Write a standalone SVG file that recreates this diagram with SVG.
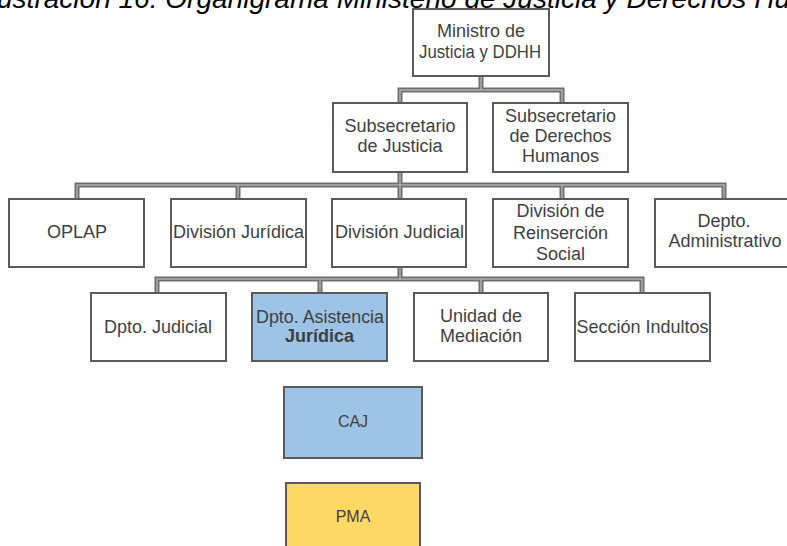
<svg xmlns="http://www.w3.org/2000/svg" width="787" height="546" viewBox="0 0 787 546">
<style>
.box{fill:#ffffff;stroke:#5a5a5a;stroke-width:2}
.blue{fill:#9dc3e6}
.yellow{fill:#ffd966}
.t{font-family:"Liberation Sans",Arial,sans-serif;font-size:18px;fill:#3f3f3f;text-anchor:middle}
.b{font-weight:bold}
.c1{fill:none;stroke:#6e6e6e;stroke-width:5;stroke-linejoin:miter}
.c2{fill:none;stroke:#b0b0b0;stroke-width:1.5;stroke-linejoin:miter}
.title{font-family:"Liberation Sans",Arial,sans-serif;font-size:27px;font-style:italic;fill:#000000}
</style>
<rect width="787" height="546" fill="#ffffff"/>
<text class="title" x="-3" y="7.5" textLength="793" lengthAdjust="spacingAndGlyphs">ustración 16: Organigrama Ministerio de Justicia y Derechos Hu</text>
<g id="connectors">
<path class="c1" d="M481 76V90M400 103V90H562V103M400 172V185M77 199V185H724V199M238 185V199M400 185V199M562 185V199M400 267V279M157 293V279H642V293M320 279V293M481 279V293"/>
<path class="c2" d="M481 76V90M400 103V90H562V103M400 172V185M77 199V185H724V199M238 185V199M400 185V199M562 185V199M400 267V279M157 293V279H642V293M320 279V293M481 279V293"/>
</g>
<g id="ministro"><rect class="box" x="413" y="9" width="136" height="67"/><text class="t" x="481" y="37">Ministro de</text><text class="t" x="480" y="58" textLength="122" lengthAdjust="spacingAndGlyphs">Justicia y DDHH</text></g>
<g id="subsec-justicia"><rect class="box" x="333" y="103" width="134" height="69"/><text class="t" x="400" y="132">Subsecretario</text><text class="t" x="400" y="152">de Justicia</text></g>
<g id="subsec-ddhh"><rect class="box" x="493" y="103" width="135" height="69"/><text class="t" x="560.5" y="122">Subsecretario</text><text class="t" x="560.5" y="142">de Derechos</text><text class="t" x="560.5" y="162">Humanos</text></g>
<g id="oplap"><rect class="box" x="9" y="199" width="135" height="68"/><text class="t" x="77" y="238">OPLAP</text></g>
<g id="div-juridica"><rect class="box" x="171" y="199" width="135" height="68"/><text class="t" x="238.5" y="238" textLength="131" lengthAdjust="spacingAndGlyphs">División Jurídica</text></g>
<g id="div-judicial"><rect class="box" x="332" y="199" width="134" height="68"/><text class="t" x="399.5" y="238" textLength="129" lengthAdjust="spacingAndGlyphs">División Judicial</text></g>
<g id="div-reinsercion"><rect class="box" x="493" y="199" width="135" height="68"/><text class="t" x="560.5" y="217">División de</text><text class="t" x="560.5" y="239">Reinserción</text><text class="t" x="560.5" y="260">Social</text></g>
<g id="depto-admin"><rect class="box" x="655" y="199" width="136" height="68"/><text class="t" x="724" y="227">Depto.</text><text class="t" x="725" y="247">Administrativo</text></g>
<g id="dpto-judicial"><rect class="box" x="91" y="293" width="135" height="68"/><text class="t" x="158" y="333">Dpto. Judicial</text></g>
<g id="dpto-asistencia"><rect class="box blue" x="252" y="293" width="135" height="68"/><text class="t" x="320" y="323" textLength="128" lengthAdjust="spacingAndGlyphs">Dpto. Asistencia</text><text class="t b" x="319.5" y="342">Jurídica</text></g>
<g id="unidad-mediacion"><rect class="box" x="414" y="293" width="134" height="68"/><text class="t" x="481" y="322">Unidad de</text><text class="t" x="481" y="342">Mediación</text></g>
<g id="seccion-indultos"><rect class="box" x="575" y="293" width="135" height="68"/><text class="t" x="642.5" y="333" textLength="132" lengthAdjust="spacingAndGlyphs">Sección Indultos</text></g>
<g id="caj"><rect class="box blue" x="284" y="387" width="138" height="71"/><text class="t" x="353" y="427" style="font-size:16px">CAJ</text></g>
<g id="pma"><rect class="box yellow" x="286" y="483" width="134" height="72"/><text class="t" x="353" y="522" style="font-size:16px">PMA</text></g>
</svg>
